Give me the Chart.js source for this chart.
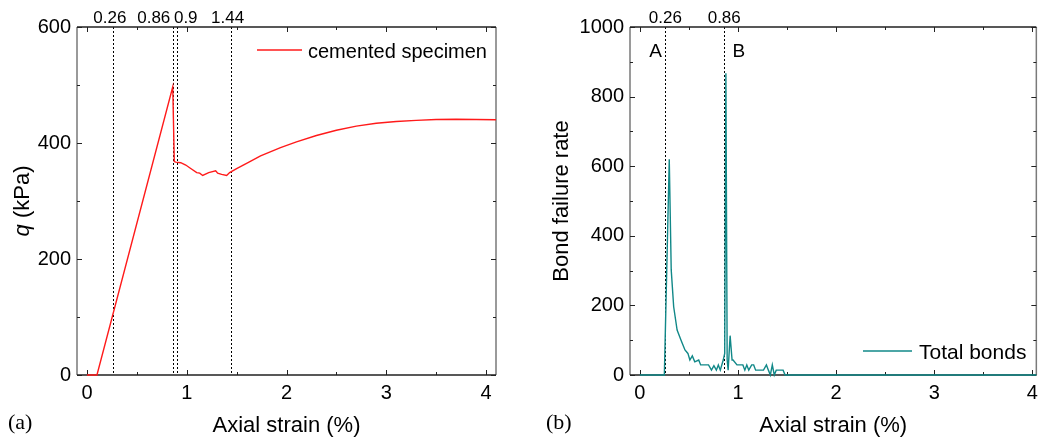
<!DOCTYPE html>
<html>
<head>
<meta charset="utf-8">
<script src="https://cdn.jsdelivr.net/npm/chart.js@4.4.1/dist/chart.umd.min.js"></script>
<style>
  body { margin: 0; background: #fff; }
  .panel { position: absolute; top: 0; height: 440px; }
  #panelA { left: 0; width: 520px; }
  #panelB { left: 520px; width: 524px; }
</style>
</head>
<body>
<div class="panel" id="panelA"><canvas id="chartA" width="520" height="440"></canvas></div>
<div class="panel" id="panelB"><canvas id="chartB" width="524" height="440"></canvas></div>
<script>
// (a) deviator stress q against axial strain
const strainA = [0, 0.10, 0.86, 0.875, 0.89, 0.94, 0.99, 1.04, 1.10, 1.13, 1.16, 1.22, 1.29, 1.31, 1.35, 1.40, 1.43,
  1.50, 1.60, 1.74, 1.94, 2.10, 2.30, 2.50, 2.70, 2.90, 3.10, 3.30, 3.50, 3.70, 3.90, 4.10];
const qA = [0, 0, 497, 368, 367, 366, 362, 356, 349, 348, 344, 349, 352, 348, 346, 344, 349,
  356, 365, 378, 392, 402, 413, 422, 429, 434, 437, 439, 440.5, 441, 440.5, 440];
const markersA = [0.26, 0.86, 0.9, 1.44];

// (b) bond failure rate against axial strain
const strainB = [0, 0.25, 0.30, 0.32, 0.345, 0.38, 0.42, 0.46, 0.49, 0.51, 0.535, 0.56, 0.60, 0.62, 0.70, 0.73,
  0.755, 0.78, 0.80, 0.82, 0.85, 0.865, 0.877, 0.89, 0.90, 0.92, 0.94, 0.95, 0.99, 1.05, 1.07, 1.09, 1.11,
  1.14, 1.16, 1.18, 1.26, 1.29, 1.31, 1.33, 1.35, 1.37, 1.39, 1.46, 1.48, 4.04];
const rateB = [0, 0, 620, 302, 196, 129, 100, 72, 62, 43, 55, 38, 43, 29, 29, 14,
  27, 14, 29, 14, 43, 62, 867, 43, 14, 113, 43, 43, 29, 29, 14, 29, 14,
  29, 29, 14, 14, 29, 14, 0, 29, 0, 14, 14, 0, 0];
const markersB = [0.26, 0.86];

const strainTicks = [0, 1, 2, 3, 4];
const qTicks = [0, 200, 400, 600];
const rateTicks = [0, 200, 400, 600, 800, 1000];

const SANS = '"Liberation Sans", Arial, sans-serif';
const SERIF = '"Liberation Serif", "Times New Roman", serif';

const halfway = arr => arr.slice(1).map((v, i) => (v + arr[i]) / 2);

// frame, inward ticks, dotted strain markers and all free text
const framePlugin = {
  id: 'frame',
  beforeDatasetsDraw(chart, args, o) {
    const { ctx, chartArea: a, scales: { x, y } } = chart;
    ctx.save();

    ctx.strokeStyle = '#000';
    ctx.lineWidth = 1;
    ctx.setLineDash([2, 2]);
    o.markers.forEach(v => {
      const px = Math.round(x.getPixelForValue(v)) + 0.5;
      ctx.beginPath();
      ctx.moveTo(px, a.top);
      ctx.lineTo(px, a.bottom);
      ctx.stroke();
    });
    ctx.setLineDash([]);

    ctx.fillStyle = '#000';
    ctx.font = '17px ' + SANS;
    ctx.textAlign = 'center';
    ctx.textBaseline = 'alphabetic';
    o.markers.forEach((v, i) => {
      ctx.fillText(String(v), x.getPixelForValue(v) + (o.nudge[i] || 0), a.top - 4);
    });

    // box
    ctx.lineWidth = 1.5;
    ctx.strokeStyle = '#7a7a7a';
    ctx.beginPath();
    ctx.moveTo(a.left, a.top); ctx.lineTo(a.left, a.bottom);
    ctx.moveTo(a.right, a.top); ctx.lineTo(a.right, a.bottom);
    ctx.stroke();
    ctx.strokeStyle = '#222';
    ctx.beginPath();
    ctx.moveTo(a.left, a.top); ctx.lineTo(a.right, a.top);
    ctx.moveTo(a.left, a.bottom); ctx.lineTo(a.right, a.bottom);
    ctx.stroke();

    // ticks on all four sides, pointing in
    ctx.lineWidth = 1;
    ctx.strokeStyle = '#222';
    const xt = (vals, len) => vals.forEach(v => {
      const px = Math.round(x.getPixelForValue(v)) + 0.5;
      ctx.beginPath();
      ctx.moveTo(px, a.bottom); ctx.lineTo(px, a.bottom - len);
      ctx.moveTo(px, a.top); ctx.lineTo(px, a.top + len);
      ctx.stroke();
    });
    const yt = (vals, len) => vals.forEach(v => {
      const py = Math.round(y.getPixelForValue(v)) + 0.5;
      ctx.beginPath();
      ctx.moveTo(a.left, py); ctx.lineTo(a.left + len, py);
      ctx.moveTo(a.right, py); ctx.lineTo(a.right - len, py);
      ctx.stroke();
    });
    xt(o.xMajor, 5);
    xt(halfway(o.xMajor), 3);
    yt(o.yMajor, 5);
    yt(halfway(o.yMajor), 3);
    ctx.restore();
  },
  afterDraw(chart, args, o) {
    const { ctx, chartArea: a, scales: { x, y } } = chart;
    const ds = chart.data.datasets[0];
    ctx.save();
    ctx.fillStyle = '#000';
    ctx.textBaseline = 'alphabetic';

    // x title
    ctx.font = '22px ' + SANS;
    ctx.textAlign = 'center';
    ctx.fillText('Axial strain (%)', (a.left + a.right) / 2, 432);

    // y title, rotated, pieces may be italic
    ctx.save();
    ctx.translate(o.yTitleX, (a.top + a.bottom) / 2);
    ctx.rotate(-Math.PI / 2);
    ctx.textAlign = 'left';
    const fontOf = p => (p.italic ? 'italic ' : '') + '22px ' + SANS;
    let w = 0;
    o.yTitle.forEach(p => { ctx.font = fontOf(p); w += ctx.measureText(p.text).width; });
    let cx = -w / 2;
    o.yTitle.forEach(p => {
      ctx.font = fontOf(p);
      ctx.fillText(p.text, cx, 0);
      cx += ctx.measureText(p.text).width;
    });
    ctx.restore();

    // panel label
    ctx.font = '22px ' + SERIF;
    ctx.textAlign = 'left';
    ctx.fillText(o.panel, o.panelX, 429);

    // legend
    const lg = o.legend;
    ctx.strokeStyle = ds.borderColor;
    ctx.lineWidth = ds.borderWidth;
    ctx.beginPath();
    ctx.moveTo(lg.x0, lg.y); ctx.lineTo(lg.x1, lg.y);
    ctx.stroke();
    ctx.font = lg.size + 'px ' + SANS;
    ctx.fillText(ds.label, lg.tx, lg.y + 8);

    // region letters
    ctx.font = '19px ' + SANS;
    ctx.textAlign = 'center';
    (o.notes || []).forEach(n => ctx.fillText(n.text, x.getPixelForValue(n.x), y.getPixelForValue(n.y)));
    ctx.restore();
  }
};

const tickFont = { family: SANS, size: 20 };

function buildChart(id, opts) {
  return new Chart(document.getElementById(id), {
    type: 'line',
    data: {
      datasets: [{
        label: opts.label,
        data: opts.xs.map((v, i) => ({ x: v, y: opts.ys[i] })),
        borderColor: opts.color,
        borderWidth: 1.4,
        pointRadius: 0,
        tension: 0,
        clip: 4
      }]
    },
    options: {
      responsive: false,
      animation: false,
      devicePixelRatio: 1,
      layout: { padding: { left: 0, right: opts.padRight, top: 27, bottom: 0 } },
      plugins: {
        legend: { display: false },
        tooltip: { enabled: false },
        frame: opts.frame
      },
      scales: {
        x: {
          type: 'linear',
          min: -0.1,
          max: opts.xMax,
          grid: { display: false, drawTicks: false },
          border: { display: false },
          afterBuildTicks: s => { s.ticks = strainTicks.map(v => ({ value: v })); },
          afterFit: s => { s.height = 65; },
          ticks: { font: tickFont, color: '#000', padding: 6, maxRotation: 0, autoSkip: false,
            callback: v => String(v) }
        },
        y: {
          type: 'linear',
          min: 0,
          max: opts.yMax,
          grid: { display: false, drawTicks: false },
          border: { display: false },
          afterBuildTicks: s => { s.ticks = opts.yTicks.map(v => ({ value: v })); },
          afterFit: s => { s.width = opts.yWidth; },
          ticks: { font: tickFont, color: '#000', padding: 6, autoSkip: false,
            callback: v => String(v) }
        }
      }
    },
    plugins: [framePlugin]
  });
}

buildChart('chartA', {
  label: 'cemented specimen',
  xs: strainA, ys: qA, color: '#ff1a1a',
  xMax: 4.1, yMax: 600, yTicks: qTicks, yWidth: 77, padRight: 24,
  frame: {
    markers: markersA, nudge: [-3, -19, 9, -3],
    xMajor: strainTicks, yMajor: qTicks,
    yTitle: [{ text: 'q', italic: true }, { text: ' (kPa)' }], yTitleX: 29,
    panel: '(a)', panelX: 8,
    legend: { x0: 257, x1: 302, y: 50, tx: 308, size: 20 }
  }
});

buildChart('chartB', {
  label: 'Total bonds',
  xs: strainB, ys: rateB, color: '#118888',
  xMax: 4.04, yMax: 1000, yTicks: rateTicks, yWidth: 110, padRight: 3,
  frame: {
    markers: markersB, nudge: [0, 0],
    xMajor: strainTicks, yMajor: rateTicks,
    yTitle: [{ text: 'Bond failure rate' }], yTitleX: 48,
    panel: '(b)', panelX: 26,
    legend: { x0: 343, x1: 392, y: 351, tx: 399, size: 21 },
    notes: [{ text: 'A', x: 0.16, y: 914 }, { text: 'B', x: 1.01, y: 914 }]
  }
});
</script>
</body>
</html>
